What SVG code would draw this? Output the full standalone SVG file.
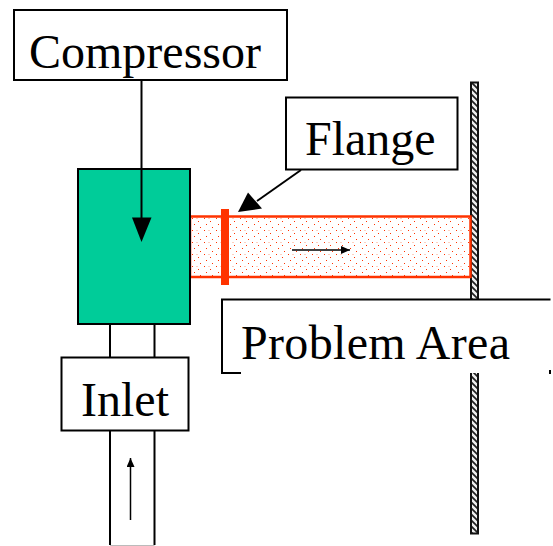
<svg xmlns="http://www.w3.org/2000/svg" width="553" height="546" viewBox="0 0 553 546">
<style>
.lbl{fill:#fff;stroke:#000;stroke-width:2}
.t{font-family:"Liberation Serif","Times New Roman",serif;font-size:48px;fill:#000}
.l{stroke:#000;fill:none}
</style>
<defs>
<pattern id="dots" width="12" height="12" patternUnits="userSpaceOnUse" x="190" y="216">
<rect width="12" height="12" fill="#fff"/>
<rect x="2" y="2" width="1" height="1" fill="#ff3300"/>
<rect x="8" y="5" width="1" height="1" fill="#ff3300"/>
<rect x="4" y="8" width="1" height="1" fill="#ff3300"/>
<rect x="10" y="11" width="1" height="1" fill="#ff3300"/>
<rect x="6" y="2" width="2" height="1" fill="#ffd0c0"/>
</pattern>
<pattern id="hatch" width="6" height="6" patternUnits="userSpaceOnUse" patternTransform="translate(471 82)">
<rect width="6" height="6" fill="#eee"/>
<path d="M-1 -1L7 7M-1 -7L7 1M-1 5L7 13" stroke="#222" stroke-width="1.700" fill="none"/>
</pattern>
<marker id="sm" markerUnits="userSpaceOnUse" markerWidth="10" markerHeight="10" refX="9" refY="4" orient="auto"><path d="M0 0L9 4L0 8Z" fill="#000"/></marker>
</defs>
<g id="wall"><rect x="471" y="82.500" width="7" height="451" fill="url(#hatch)" stroke="#111" stroke-width="2"/></g>
<g id="inlet-pipe">
<path class="l" stroke-width="2" d="M110 323V545M154.500 323V545"/>
<path d="M110 545.500H154.500" stroke="#bbb" stroke-width="1"/>
</g>
<g id="duct"><rect x="190" y="216.500" width="280.500" height="60.500" fill="url(#dots)" stroke="#ff3300" stroke-width="2.500"/></g>
<g id="compressor-body"><rect x="78" y="169" width="112" height="155" fill="#00cc99" stroke="#000" stroke-width="2"/></g>
<g id="flange"><rect x="221" y="209" width="8" height="76" fill="#ff3300"/></g>
<g id="problem-area">
<rect x="222" y="299.500" width="328" height="73.500" fill="#fff"/>
<path class="l" stroke-width="2" d="M241 373H222V299.500H550.500"/>
<path class="l" stroke-width="2" d="M550 370V374"/>
<text class="t" x="241" y="359" textLength="269" lengthAdjust="spacing">Problem Area</text>
</g>
<g id="compressor"><rect class="lbl" x="14" y="10" width="273" height="70"/><text class="t" x="29" y="68">Compressor</text></g>
<g id="inlet"><rect class="lbl" x="61.500" y="357.500" width="127" height="73"/><text class="t" x="81" y="416">Inlet</text></g>
<g id="flange-label"><rect class="lbl" x="286" y="97.500" width="171.500" height="72"/><text class="t" x="305" y="155">Flange</text></g>
<g id="connectors">
<path class="l" stroke-width="2" d="M141.500 80V222"/>
<path d="M132 217.500H151.500L141.500 242Z" fill="#000"/>
<path class="l" stroke-width="2" d="M301 170L257 201"/>
<path d="M248 192.500L262 208.500L238 212Z" fill="#000"/>
<path class="l" stroke-width="1.500" d="M292 250H350" marker-end="url(#sm)"/>
<path class="l" stroke-width="1.500" d="M130.500 520V458" marker-end="url(#sm)"/>
</g>
</svg>
